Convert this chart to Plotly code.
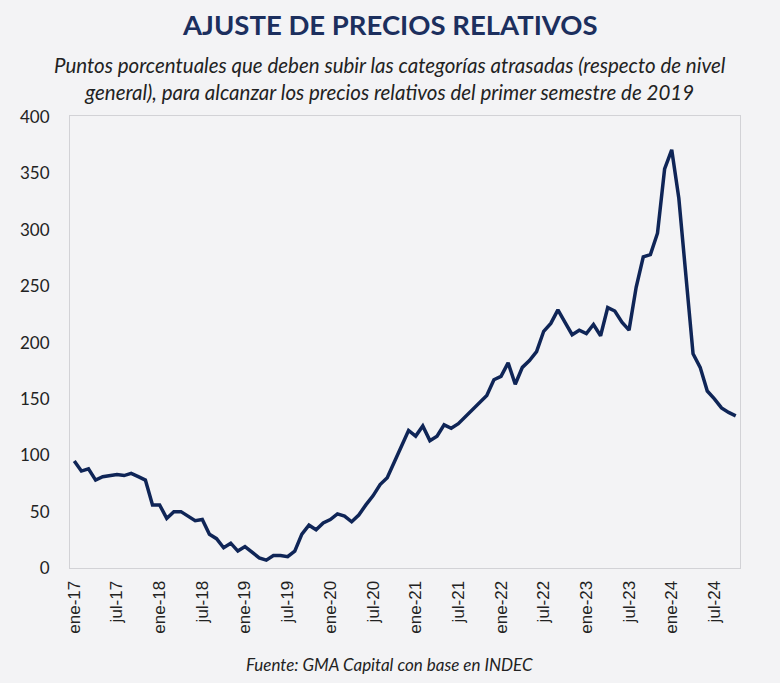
import plotly.graph_objects as go

# Month labels (ene-17 .. oct-24)
meses = ["ene", "feb", "mar", "abr", "may", "jun", "jul", "ago", "sep", "oct", "nov", "dic"]
categorias = [f"{m}-{a}" for a in range(17, 25) for m in meses][:94]

valores = [
    95, 86, 88, 78, 81, 82, 83, 82, 84, 81, 78, 56,      # 2017
    56, 44, 50, 50, 46, 42, 43, 30, 26, 18, 22, 15,      # 2018
    19, 14, 9, 7, 11, 11, 10, 15, 30, 38, 34, 40,        # 2019
    43, 48, 46, 41, 47, 56, 64, 74, 80, 94, 108, 122,    # 2020
    117, 126, 113, 117, 127, 124, 128, 134, 140, 147, 153, 167,  # 2021
    170, 182, 163, 178, 184, 192, 210, 217, 229, 218, 207, 211,  # 2022
    208, 216, 206, 231, 228, 218, 211, 249, 276, 278, 297, 354,  # 2023
    371, 328, 255, 190, 178, 157, 150, 142, 138, 135,            # 2024
]

ticks_x = categorias[::6]
ticks_y = [0, 50, 100, 150, 200, 250, 300, 350, 400]

titulo = "AJUSTE DE PRECIOS RELATIVOS"
subtitulo = ("Puntos porcentuales que deben subir las categorías atrasadas (respecto de nivel<br>"
             "general), para alcanzar los precios relativos del primer semestre de 2019")
fuente = "Fuente: GMA Capital con base en INDEC"

BG = "#f3f3f5"
NAVY = "#0f2557"

fig = go.Figure()
fig.add_trace(go.Scatter(
    x=categorias, y=valores, mode="lines",
    line=dict(color=NAVY, width=3.5),
    hoverinfo="x+y", showlegend=False,
))

fig.update_layout(
    width=780, height=683,
    paper_bgcolor=BG, plot_bgcolor=BG,
    margin=dict(l=70, r=40, t=116, b=115, pad=0),
    font=dict(family="Lato", color="#222222"),
    xaxis=dict(
        type="category", range=[-0.6, 93.6],
        tickmode="array", tickvals=ticks_x, ticktext=ticks_x,
        tickangle=-90, tickfont=dict(family="Liberation Sans", size=17, color="#222222"),
        showgrid=False, zeroline=False,
        showline=True, linecolor="#d2d2d6", linewidth=1, mirror=True,
        ticks="", ticklabelstandoff=5,
    ),
    yaxis=dict(
        range=[0, 401], tickmode="array", tickvals=ticks_y,
        tickfont=dict(family="Lato", size=17, color="#222222"),
        showgrid=False, zeroline=False,
        showline=True, linecolor="#d2d2d6", linewidth=1, mirror=True,
        ticks="", ticklabelstandoff=16,
    ),
    annotations=[
        dict(text=f"<b>{titulo}</b>", xref="paper", yref="paper",
             x=0.4776, y=1.2035, xanchor="center", yanchor="middle", showarrow=False,
             font=dict(family="Lato", size=27.5, color="#1c2f5e")),
        dict(text=f"<i>{subtitulo}</i>", xref="paper", yref="paper",
             x=0.4776, y=1.083, xanchor="center", yanchor="middle", showarrow=False,
             font=dict(family="Lato", size=20.5, color="#222222")),
        dict(text=f"<i>{fuente}</i>", xref="paper", yref="paper",
             x=0.4776, y=-0.2124, xanchor="center", yanchor="middle", showarrow=False,
             font=dict(family="Lato", size=17, color="#222222")),
    ],
)

fig.write_html("out.html")
